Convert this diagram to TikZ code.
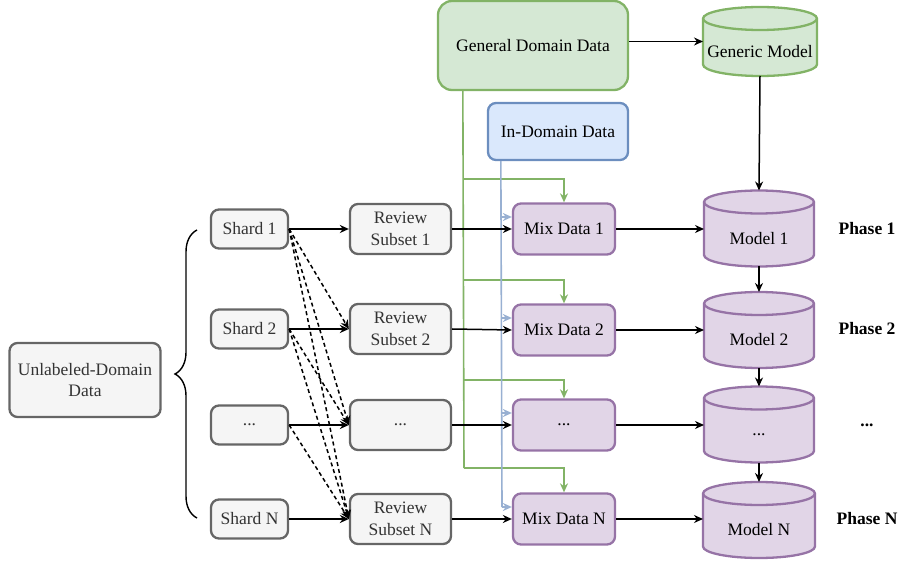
\documentclass[tikz,border=0pt]{standalone}
\usepackage{fontspec}
\setmainfont{Liberation Serif}
\usetikzlibrary{arrows.meta,decorations.pathreplacing,calc}
\definecolor{gfill}{HTML}{D5E8D4}\definecolor{gdraw}{HTML}{82B366}
\definecolor{bfill}{HTML}{DAE8FC}\definecolor{bdraw}{HTML}{6C8EBF}
\definecolor{pfill}{HTML}{E1D5E7}\definecolor{pdraw}{HTML}{9673A6}
\definecolor{sfill}{HTML}{F5F5F5}\definecolor{sdraw}{HTML}{666666}
\definecolor{stext}{HTML}{333333}
\newcommand\cylnode[8]{%
  \node[minimum width=#4pt, minimum height=#5pt, inner sep=0pt, outer sep=0pt] (#1) at (#2,#3) {};
  \pgfmathsetmacro\cylrx{#4/2}
  \filldraw[fill=#6, draw=#7, line width=2.3pt]
    ($(#1.north west)+(0,-11.5)$) -- ($(#1.south west)+(0,11.5)$)
    arc[start angle=180, end angle=360, x radius=\cylrx pt, y radius=11.5pt]
    -- ($(#1.north east)+(0,-11.5)$)
    arc[start angle=0, end angle=180, x radius=\cylrx pt, y radius=11.5pt] -- cycle;
  \draw[draw=#7, line width=2.3pt] ($(#1.north west)+(0,-11.5)$)
    arc[start angle=180, end angle=360, x radius=\cylrx pt, y radius=11.5pt];
  \node[txt] at ($(#1.center)+(0,-10)$) {#8};
}
\begin{document}
\begin{tikzpicture}[x=1pt,y=1pt,
  txt/.style={font=\fontsize{17.5}{21.5}\selectfont, align=center, inner sep=0pt},
  base/.style={txt, rounded corners=8pt, line width=2.3pt},
  graybox/.style={base, fill=sfill, draw=sdraw, text=stext},
  greenbox/.style={base, fill=gfill, draw=gdraw, rounded corners=14pt},
  bluebox/.style={base, fill=bfill, draw=bdraw},
  mixbox/.style={base, fill=pfill, draw=pdraw},
  phase/.style={font=\fontsize{17.5}{21.5}\selectfont\bfseries, inner sep=0pt},
  arr/.style={line width=1.5pt, -{Stealth[length=9pt,width=8pt]}},
  dasharr/.style={arr, dashed, dash pattern=on 4pt off 3pt},
  gline/.style={line width=1.6pt, draw=gdraw},
  garr/.style={gline, -{Stealth[length=9pt,width=8pt]}},
  bline/.style={line width=1.6pt, draw=bdraw!70!white},
  barr/.style={bline, -{Stealth[length=9pt,width=8pt,fill=bdraw]}}
]
\useasboundingbox (0,0) rectangle (900,563);

% left column
\node[graybox, minimum width=151pt, minimum height=74pt] (U) at (85,183) {Unlabeled-Domain\\Data};
\draw[line width=1.4pt, decorate, decoration={brace, amplitude=22pt}] (197,45) -- (197,333);

\node[graybox, minimum width=77pt, minimum height=39pt] (S1) at (249.5,334) {Shard 1};
\node[graybox, minimum width=77pt, minimum height=39pt] (S2) at (249.5,234) {Shard 2};
\node[graybox, minimum width=77pt, minimum height=39pt] (S3) at (249.5,138) {...};
\node[graybox, minimum width=77pt, minimum height=39pt] (S4) at (249.5,44) {Shard N};

\node[graybox, minimum width=101pt, minimum height=50pt] (R1) at (400.5,334) {Review\\Subset 1};
\node[graybox, minimum width=101pt, minimum height=50pt] (R2) at (400.5,234) {Review\\Subset 2};
\node[graybox, minimum width=101pt, minimum height=50pt] (R3) at (400.5,138) {...};
\node[graybox, minimum width=101pt, minimum height=50pt] (R4) at (400.5,44) {Review\\Subset N};

\node[mixbox, minimum width=102pt, minimum height=51pt] (M1) at (564,334) {Mix Data 1};
\node[mixbox, minimum width=102pt, minimum height=51pt] (M2) at (564,233) {Mix Data 2};
\node[mixbox, minimum width=102pt, minimum height=51pt] (M3) at (564,138) {...};
\node[mixbox, minimum width=102pt, minimum height=51pt] (M4) at (564,44) {Mix Data N};

\node[greenbox, minimum width=190pt, minimum height=89pt] (G) at (533,517.5) {General Domain Data};
\node[bluebox, minimum width=140pt, minimum height=57pt] (I) at (558,431.5) {In-Domain Data};

\cylnode{GM}{760}{521.5}{114}{69}{gfill}{gdraw}{Generic Model}
\cylnode{D1}{759}{334.5}{110}{76}{pfill}{pdraw}{Model 1}
\cylnode{D2}{759}{233}{110}{76}{pfill}{pdraw}{Model 2}
\cylnode{D3}{759}{138.5}{110}{76}{pfill}{pdraw}{...}
\cylnode{D4}{759}{43}{112}{76}{pfill}{pdraw}{Model N}

\node[phase] (P1) at (867,334) {Phase 1};
\node[phase] (P2) at (867,234) {Phase 2};
\node[phase] (P3) at (867,138) {...};
\node[phase] (P4) at (867,44) {Phase N};

% green connectors
\coordinate (gtop) at ($(G.south west)+(26,0)$);
\coordinate (gb1) at (464,384);
\coordinate (gb2) at (464,283);
\coordinate (gb3) at (464,183);
\coordinate (gb4) at (464,95);
\draw[gline] (gtop) -- (gb4);
\draw[garr] (gb1) -| (M1.north);
\draw[garr] (gb2) -| (M2.north);
\draw[garr] (gb3) -| (M3.north);
\draw[garr] (gb4) -| (M4.north);

% blue connectors
\coordinate (btop) at ($(I.south west)+(14,0)$);
\coordinate (bb1) at (502,346);
\coordinate (bb2) at (502,245);
\coordinate (bb3) at (502,150);
\coordinate (bb4) at (502,56);
\draw[bline] (btop) -- (bb4);
\draw[barr] (bb1) -- (bb1 -| M1.west);
\draw[barr] (bb2) -- (bb2 -| M2.west);
\draw[barr] (bb3) -- (bb3 -| M3.west);
\draw[barr] (bb4) -- (bb4 -| M4.west);

% black connectors
\foreach \i in {1,2,3,4}{
  \draw[arr] (S\i.east) -- (R\i.west);
  \draw[arr] (R\i.east) -- (M\i.west);
  \draw[arr] (M\i.east) -- (M\i.east -| D\i.west);
}
\draw[dasharr] (S1.east) -- (R2.west);
\draw[dasharr] (S1.east) -- (R3.west);
\draw[dasharr] (S1.east) -- (R4.west);
\draw[dasharr] (S2.east) -- (R3.west);
\draw[dasharr] (S2.east) -- (R4.west);
\draw[dasharr] (S3.east) -- (R4.west);

\draw[arr] (G.east |- GM.west) -- (GM.west);
\draw[arr] (GM.south) -- (D1.north);
\draw[arr] (D1.south) -- (D2.north);
\draw[arr] (D2.south) -- (D3.north);
\draw[arr] (D3.south) -- (D4.north);
\end{tikzpicture}
\end{document}
